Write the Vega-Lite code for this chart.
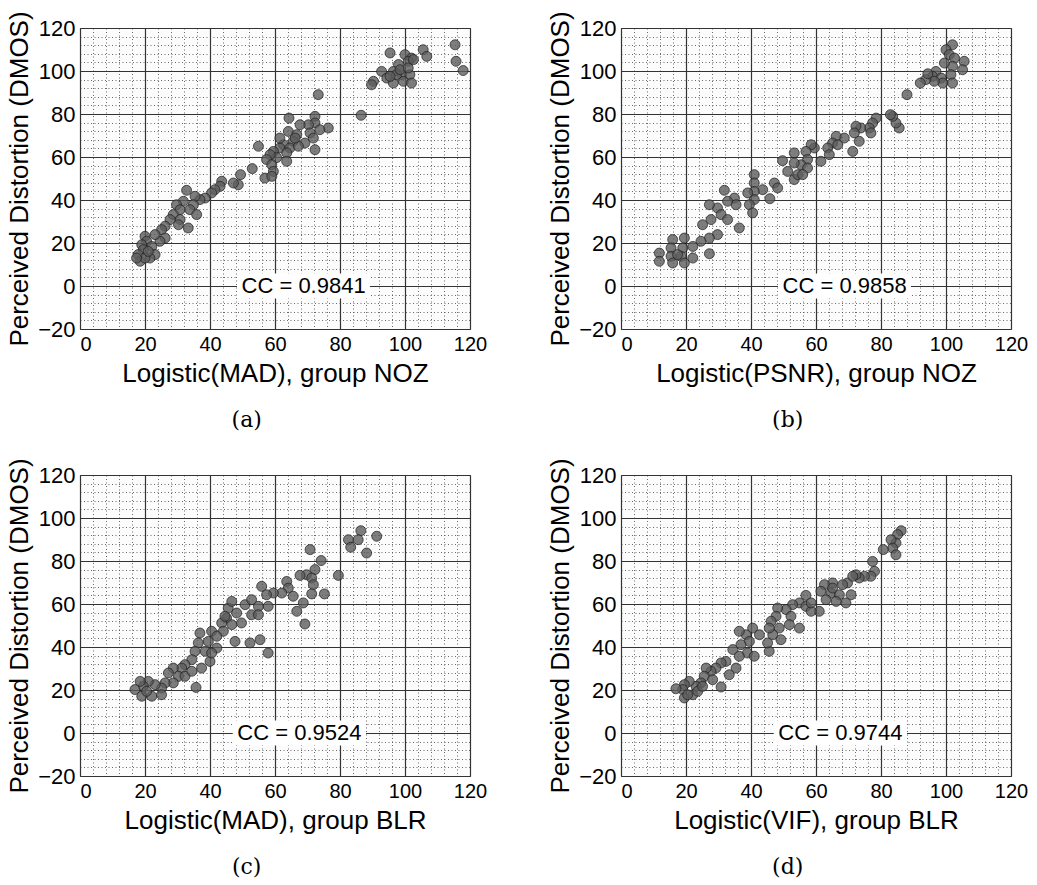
{
  "$schema": "https://vega.github.io/schema/vega-lite/v6.json",
  "background": "white",
  "padding": {"left": 6, "top": 10, "right": 5, "bottom": 5},
  "columns": 2,
  "spacing": {"row": 25, "column": 59},
  "config": {
    "font": "Liberation Sans",
    "view": {"stroke": "#444444", "strokeWidth": 1, "fill": "#fcfcfc"},
    "axis": {
      "ticks": false,
      "domain": false,
      "grid": true,
      "tickCount": 200,
      "format": "d",
      "gridColor": {"condition": {"test": "datum.value % 20 === 0", "value": "#333333"}, "value": "#444444"},
      "gridDash": {"condition": {"test": "datum.value % 20 === 0", "value": []}, "value": [1, 2.5]},
      "gridWidth": {"condition": {"test": "datum.value % 20 === 0", "value": 1.2}, "value": 1},
      "gridOpacity": {"condition": {"test": "datum.value % 20 === 0", "value": 1}, "value": 0.8},
      "labelExpr": "datum.value % 20 === 0 ? datum.label : ''",
      "labelOverlap": false,
      "labelBound": false,
      "labelFlush": false,
      "labelFont": "Liberation Sans",
      "labelFontSize": 20,
      "labelColor": "#000000",
      "labelPadding": 5,
      "titleFont": "Liberation Sans",
      "titleFontSize": 26,
      "titleFontWeight": "normal",
      "titleColor": "#000000"
    },
    "axisX": {"titlePadding": 6, "labelAlign": {"condition": {"test": "datum.value === 0", "value": "left"}, "value": "center"}},
    "axisY": {"titlePadding": 5, "labelFontSize": 22},
    "title": {"orient": "bottom", "frame": "bounds", "font": "DejaVu Serif", "fontSize": 22, "fontWeight": "normal", "color": "#000000", "anchor": "middle", "offset": 24}
  },
  "datasets": {
    "a": [
      {"x": 115.4, "y": 112.2}, {"x": 115.7, "y": 104.5}, {"x": 117.9, "y": 100.2}, {"x": 105.6, "y": 109.9}, {"x": 106.7, "y": 106.8},
      {"x": 95.4, "y": 108.4}, {"x": 100, "y": 107.6}, {"x": 102, "y": 106}, {"x": 101, "y": 104.5}, {"x": 98, "y": 103},
      {"x": 92.8, "y": 99.8}, {"x": 96.4, "y": 99.8}, {"x": 99, "y": 98.3}, {"x": 101.5, "y": 98.3}, {"x": 90.3, "y": 95.2},
      {"x": 89.7, "y": 93.6}, {"x": 94.4, "y": 96.7}, {"x": 96.4, "y": 94.4}, {"x": 99.5, "y": 95.2}, {"x": 102, "y": 94.4},
      {"x": 97.4, "y": 98.3}, {"x": 95.4, "y": 97.5}, {"x": 98.5, "y": 100.6}, {"x": 101, "y": 101.4}, {"x": 102.6, "y": 105.3},
      {"x": 73.3, "y": 89}, {"x": 86.5, "y": 79.4},
      {"x": 64.3, "y": 78.1}, {"x": 72.3, "y": 78.9}, {"x": 72.3, "y": 75.8}, {"x": 76.4, "y": 73.5}, {"x": 73.8, "y": 72.7},
      {"x": 70.3, "y": 75}, {"x": 67.7, "y": 75}, {"x": 70.8, "y": 71.2}, {"x": 64.1, "y": 71.9}, {"x": 66.7, "y": 70.4},
      {"x": 72.3, "y": 63.4}, {"x": 69.2, "y": 66.5}, {"x": 65.6, "y": 67.3}, {"x": 62.6, "y": 65.7}, {"x": 61.5, "y": 64.2},
      {"x": 64.6, "y": 64.2}, {"x": 67.2, "y": 65}, {"x": 59.5, "y": 62.6}, {"x": 63.6, "y": 61.9}, {"x": 60.5, "y": 59.7},
      {"x": 58.5, "y": 61.1}, {"x": 57.4, "y": 58.8}, {"x": 63.6, "y": 58}, {"x": 59, "y": 56.4}, {"x": 59.5, "y": 53.3},
      {"x": 56.9, "y": 50.2}, {"x": 59, "y": 51}, {"x": 54.9, "y": 65}, {"x": 66.2, "y": 68.8}, {"x": 71.8, "y": 68.8}, {"x": 61.5, "y": 68.8},
      {"x": 53, "y": 54.6}, {"x": 49.4, "y": 51.8}, {"x": 48.7, "y": 47.1}, {"x": 47.2, "y": 47.9}, {"x": 43.6, "y": 48.7},
      {"x": 43.1, "y": 46.4}, {"x": 41.5, "y": 44.8}, {"x": 40.5, "y": 43.3}, {"x": 38.5, "y": 40.9}, {"x": 36.9, "y": 40.2},
      {"x": 32.8, "y": 44.5}, {"x": 35.4, "y": 41.7}, {"x": 34.9, "y": 37.8}, {"x": 31.8, "y": 39.4}, {"x": 29.7, "y": 37.8},
      {"x": 30.8, "y": 35.5}, {"x": 33.8, "y": 35.5}, {"x": 28.7, "y": 33.2}, {"x": 30.8, "y": 30.9}, {"x": 30.3, "y": 28.5},
      {"x": 33.3, "y": 27}, {"x": 35.9, "y": 33.2}, {"x": 27.7, "y": 30.9}, {"x": 26.2, "y": 27.8}, {"x": 25.1, "y": 26.2},
      {"x": 26.2, "y": 22.3}, {"x": 24.6, "y": 20.8}, {"x": 23.1, "y": 23.9}, {"x": 20, "y": 23.1}, {"x": 20.5, "y": 20.8},
      {"x": 19, "y": 19.2}, {"x": 22.1, "y": 18.4}, {"x": 19.5, "y": 16.9}, {"x": 23.1, "y": 14.6}, {"x": 21.5, "y": 13},
      {"x": 17.9, "y": 14.6}, {"x": 18.5, "y": 11.5}, {"x": 20, "y": 13}, {"x": 21, "y": 16.1}, {"x": 17.4, "y": 13}
    ],
    "b": [
      {"x": 102, "y": 112.2}, {"x": 100, "y": 109.9}, {"x": 101, "y": 107.6}, {"x": 102.6, "y": 106}, {"x": 105.6, "y": 104.5},
      {"x": 105.1, "y": 100.6}, {"x": 102, "y": 102.2}, {"x": 99.5, "y": 103.7}, {"x": 96.9, "y": 99.8}, {"x": 95.9, "y": 97.5},
      {"x": 98.5, "y": 96.7}, {"x": 101.5, "y": 98.3}, {"x": 102, "y": 94.4}, {"x": 99, "y": 94.4}, {"x": 96.4, "y": 95.2},
      {"x": 93.8, "y": 96}, {"x": 92.1, "y": 94.4}, {"x": 94.4, "y": 98.7}, {"x": 88, "y": 89},
      {"x": 85.6, "y": 73.5}, {"x": 84.6, "y": 75.8}, {"x": 83.6, "y": 78.9}, {"x": 82.9, "y": 79.7}, {"x": 78.5, "y": 78.1},
      {"x": 77.4, "y": 75.8}, {"x": 76.4, "y": 73.5}, {"x": 76.9, "y": 71.2}, {"x": 73.8, "y": 73.5}, {"x": 72.3, "y": 74.3},
      {"x": 71.8, "y": 71.2}, {"x": 73.3, "y": 67.3}, {"x": 71.3, "y": 62.6}, {"x": 68.7, "y": 68.8}, {"x": 66.2, "y": 69.6},
      {"x": 65.1, "y": 66.5}, {"x": 63.6, "y": 64.2}, {"x": 66.7, "y": 65.7}, {"x": 64.1, "y": 61.1}, {"x": 61.5, "y": 58},
      {"x": 59.5, "y": 64.2}, {"x": 58.5, "y": 65.7}, {"x": 56.9, "y": 62.6}, {"x": 57.4, "y": 58.8}, {"x": 55.4, "y": 56.4},
      {"x": 57.4, "y": 54.9}, {"x": 53.3, "y": 61.9}, {"x": 49.7, "y": 58.3}, {"x": 51.3, "y": 53.3}, {"x": 53.3, "y": 49.5},
      {"x": 54.4, "y": 51.8}, {"x": 55.9, "y": 51.8}, {"x": 53.3, "y": 57.2}, {"x": 47.2, "y": 47.9}, {"x": 48.2, "y": 45.6},
      {"x": 45.8, "y": 40.6}, {"x": 43.6, "y": 44.8}, {"x": 41, "y": 51.8}, {"x": 41, "y": 47.9}, {"x": 41, "y": 44},
      {"x": 41, "y": 40.2}, {"x": 39.5, "y": 37.8}, {"x": 40.5, "y": 34}, {"x": 39, "y": 43.3}, {"x": 34.9, "y": 40.9},
      {"x": 35.4, "y": 37.8}, {"x": 31.8, "y": 44.5}, {"x": 32.8, "y": 39.4}, {"x": 29.7, "y": 36.3}, {"x": 27.2, "y": 37.8},
      {"x": 30.8, "y": 33.2}, {"x": 27.7, "y": 30.9}, {"x": 25.1, "y": 28.5}, {"x": 32.8, "y": 30.9}, {"x": 36.4, "y": 27},
      {"x": 29.7, "y": 23.9}, {"x": 27.2, "y": 22.3}, {"x": 24.6, "y": 20.8}, {"x": 27.2, "y": 15}, {"x": 22.1, "y": 18.4},
      {"x": 19.5, "y": 22.3}, {"x": 19, "y": 17.7}, {"x": 18.5, "y": 13.8}, {"x": 19.5, "y": 10.7}, {"x": 15.9, "y": 21.6},
      {"x": 15.4, "y": 17.7}, {"x": 15.4, "y": 13.8}, {"x": 15.9, "y": 10.7}, {"x": 11.8, "y": 15.3}, {"x": 11.8, "y": 11.5},
      {"x": 22.1, "y": 13}, {"x": 17.4, "y": 14.6}
    ],
    "c": [
      {"x": 86.4, "y": 94.1}, {"x": 91.3, "y": 91.5}, {"x": 82.6, "y": 89.9}, {"x": 85.6, "y": 89.9}, {"x": 83.3, "y": 86.4},
      {"x": 88.2, "y": 83.7}, {"x": 70.8, "y": 85.3}, {"x": 74.2, "y": 80.2}, {"x": 72.3, "y": 76}, {"x": 79.5, "y": 73.3},
      {"x": 69.7, "y": 73.6}, {"x": 67.7, "y": 73.3}, {"x": 71.3, "y": 72.1}, {"x": 71.8, "y": 69}, {"x": 71.3, "y": 64.7},
      {"x": 75.2, "y": 64.7}, {"x": 63.6, "y": 70.5}, {"x": 64.1, "y": 67.4}, {"x": 62.1, "y": 65.1}, {"x": 65.6, "y": 63.6},
      {"x": 68.7, "y": 60.5}, {"x": 66.7, "y": 56.6}, {"x": 69.2, "y": 50.7}, {"x": 55.9, "y": 68.2}, {"x": 59.5, "y": 65.1},
      {"x": 57.4, "y": 64.3}, {"x": 57.9, "y": 58.9}, {"x": 54.9, "y": 58.9}, {"x": 52.8, "y": 55}, {"x": 50.8, "y": 59.7},
      {"x": 48.2, "y": 55.8}, {"x": 45.6, "y": 58.1}, {"x": 45.1, "y": 53.5}, {"x": 46.7, "y": 50.4}, {"x": 43.6, "y": 51.2},
      {"x": 44.1, "y": 47.3}, {"x": 47.7, "y": 42.6}, {"x": 52.3, "y": 41.9}, {"x": 55.4, "y": 43.4}, {"x": 57.9, "y": 37.2},
      {"x": 40.5, "y": 47.3}, {"x": 36.9, "y": 46.5}, {"x": 39.5, "y": 42.6}, {"x": 36.4, "y": 41.9}, {"x": 42.1, "y": 39.5},
      {"x": 38.5, "y": 38}, {"x": 35.4, "y": 38}, {"x": 34.4, "y": 34.1}, {"x": 37.4, "y": 30.2}, {"x": 40, "y": 33.3},
      {"x": 32.3, "y": 31.8}, {"x": 31.3, "y": 30.2}, {"x": 28.7, "y": 30.2}, {"x": 27.2, "y": 27.9}, {"x": 30.3, "y": 26.4},
      {"x": 28.7, "y": 23.3}, {"x": 26.2, "y": 23.3}, {"x": 25.1, "y": 20.9}, {"x": 35.7, "y": 21.2}, {"x": 23.1, "y": 22.5},
      {"x": 21, "y": 24}, {"x": 19.5, "y": 21.7}, {"x": 16.9, "y": 20.2}, {"x": 19, "y": 17.1}, {"x": 22.1, "y": 17.1},
      {"x": 25.1, "y": 17.8}, {"x": 20.5, "y": 19.4}, {"x": 18.5, "y": 24}, {"x": 46.7, "y": 61.2}, {"x": 52.8, "y": 62},
      {"x": 54.9, "y": 55}, {"x": 49.7, "y": 51.2}, {"x": 42.1, "y": 45}, {"x": 32.3, "y": 26.4}, {"x": 34.4, "y": 28.7},
      {"x": 40.5, "y": 37.2}, {"x": 44.6, "y": 54.3}
    ],
    "d": [
      {"x": 86.2, "y": 94.1}, {"x": 85.1, "y": 92.3}, {"x": 84.6, "y": 88.4}, {"x": 83.1, "y": 89.9}, {"x": 83.6, "y": 86},
      {"x": 84.6, "y": 82.9}, {"x": 80.7, "y": 85.3}, {"x": 77.4, "y": 79.8}, {"x": 78, "y": 75.2}, {"x": 76.9, "y": 72.9},
      {"x": 74.9, "y": 72.9}, {"x": 73.3, "y": 72.1}, {"x": 72.3, "y": 73.6}, {"x": 69.7, "y": 69.8}, {"x": 68.2, "y": 69},
      {"x": 65.1, "y": 69.8}, {"x": 62.6, "y": 69}, {"x": 61.5, "y": 65.9}, {"x": 64.6, "y": 65.1}, {"x": 67.2, "y": 64.3},
      {"x": 70.8, "y": 64.3}, {"x": 69.2, "y": 60.5}, {"x": 66.2, "y": 61.2}, {"x": 63.1, "y": 62}, {"x": 56.9, "y": 64},
      {"x": 54.9, "y": 60.5}, {"x": 56.9, "y": 58.9}, {"x": 61, "y": 56.6}, {"x": 58.5, "y": 56.6}, {"x": 52.8, "y": 59.7},
      {"x": 50.8, "y": 57.4}, {"x": 52.3, "y": 54.3}, {"x": 54.9, "y": 48.8}, {"x": 51.8, "y": 50.4}, {"x": 48.2, "y": 58.1},
      {"x": 47.7, "y": 54.3}, {"x": 46.2, "y": 52}, {"x": 48.7, "y": 48.8}, {"x": 46.7, "y": 45.7}, {"x": 49.2, "y": 43.4},
      {"x": 45.6, "y": 38}, {"x": 45.1, "y": 41.9}, {"x": 40.5, "y": 48.8}, {"x": 42.6, "y": 45.7}, {"x": 38.5, "y": 45.7},
      {"x": 36.4, "y": 47.3}, {"x": 39.5, "y": 42.6}, {"x": 36.9, "y": 41.1}, {"x": 34.4, "y": 38.8}, {"x": 38.9, "y": 37.2},
      {"x": 41, "y": 35.7}, {"x": 36.4, "y": 35.7}, {"x": 32.3, "y": 33.3}, {"x": 30.8, "y": 32.6}, {"x": 29.2, "y": 30.2},
      {"x": 35.4, "y": 30.2}, {"x": 33.3, "y": 27.1}, {"x": 27.7, "y": 28.7}, {"x": 26.2, "y": 30.2}, {"x": 25.6, "y": 26.4},
      {"x": 28.2, "y": 24.8}, {"x": 30.8, "y": 21.4}, {"x": 24.6, "y": 23.3}, {"x": 23.1, "y": 21.7}, {"x": 21, "y": 24},
      {"x": 19.5, "y": 22.5}, {"x": 19, "y": 20.2}, {"x": 16.9, "y": 20.6}, {"x": 19.5, "y": 16.3}, {"x": 22.1, "y": 17.8},
      {"x": 23.6, "y": 19.4}, {"x": 20.5, "y": 17.8}, {"x": 25.1, "y": 21.7}, {"x": 58.5, "y": 60.5}, {"x": 65.1, "y": 67.4},
      {"x": 71.3, "y": 72.9}, {"x": 45.6, "y": 48.8}
    ]
  },
  "concat": [
    {
      "width": 390, "height": 301,
      "title": {"text": "(a)"},
      "layer": [
        {"data": {"name": "a"}, "mark": {"type": "circle", "size": 100, "fill": "#5c5c5c", "fillOpacity": 0.8, "stroke": "#1a1a1a", "strokeWidth": 0.8, "strokeOpacity": 0.85},
         "encoding": {
           "x": {"field": "x", "type": "quantitative", "scale": {"domain": [0, 120], "nice": false, "zero": false}, "axis": {"title": "Logistic(MAD), group NOZ", "values": [0,4,8,12,16,20,24,28,32,36,40,44,48,52,56,60,64,68,72,76,80,84,88,92,96,100,104,108,112,116,120]}},
           "y": {"field": "y", "type": "quantitative", "scale": {"domain": [-20, 120], "nice": false, "zero": false}, "axis": {"title": "Perceived Distortion (DMOS)", "values": [-20,-16,-12,-8,-4,0,4,8,12,16,20,24,28,32,36,40,44,48,52,56,60,64,68,72,76,80,84,88,92,96,100,104,108,112,116,120]}}
         }},
        {"data": {"values": [{"label": "CC = 0.9841"}]}, "mark": {"type": "rect", "fill": "white", "stroke": null},
         "encoding": {"x": {"datum": 48.3}, "x2": {"datum": 89.2}, "y": {"datum": -5.8}, "y2": {"datum": 5.8}}},
        {"data": {"values": [{"label": "CC = 0.9841"}]}, "mark": {"type": "text", "font": "Liberation Sans", "fontSize": 22, "color": "#000000", "align": "center", "baseline": "middle"},
         "encoding": {"x": {"datum": 68.8}, "y": {"datum": 0}, "text": {"field": "label"}}}
      ]
    },
    {
      "width": 390, "height": 301,
      "title": {"text": "(b)"},
      "layer": [
        {"data": {"name": "b"}, "mark": {"type": "circle", "size": 100, "fill": "#5c5c5c", "fillOpacity": 0.8, "stroke": "#1a1a1a", "strokeWidth": 0.8, "strokeOpacity": 0.85},
         "encoding": {
           "x": {"field": "x", "type": "quantitative", "scale": {"domain": [0, 120], "nice": false, "zero": false}, "axis": {"title": "Logistic(PSNR), group NOZ", "values": [0,4,8,12,16,20,24,28,32,36,40,44,48,52,56,60,64,68,72,76,80,84,88,92,96,100,104,108,112,116,120]}},
           "y": {"field": "y", "type": "quantitative", "scale": {"domain": [-20, 120], "nice": false, "zero": false}, "axis": {"title": "Perceived Distortion (DMOS)", "values": [-20,-16,-12,-8,-4,0,4,8,12,16,20,24,28,32,36,40,44,48,52,56,60,64,68,72,76,80,84,88,92,96,100,104,108,112,116,120]}}
         }},
        {"data": {"values": [{"label": "CC = 0.9858"}]}, "mark": {"type": "rect", "fill": "white", "stroke": null},
         "encoding": {"x": {"datum": 48.3}, "x2": {"datum": 89.2}, "y": {"datum": -5.8}, "y2": {"datum": 5.8}}},
        {"data": {"values": [{"label": "CC = 0.9858"}]}, "mark": {"type": "text", "font": "Liberation Sans", "fontSize": 22, "color": "#000000", "align": "center", "baseline": "middle"},
         "encoding": {"x": {"datum": 68.8}, "y": {"datum": 0}, "text": {"field": "label"}}}
      ]
    },
    {
      "width": 390, "height": 301,
      "title": {"text": "(c)"},
      "layer": [
        {"data": {"name": "c"}, "mark": {"type": "circle", "size": 100, "fill": "#5c5c5c", "fillOpacity": 0.8, "stroke": "#1a1a1a", "strokeWidth": 0.8, "strokeOpacity": 0.85},
         "encoding": {
           "x": {"field": "x", "type": "quantitative", "scale": {"domain": [0, 120], "nice": false, "zero": false}, "axis": {"title": "Logistic(MAD), group BLR", "values": [0,4,8,12,16,20,24,28,32,36,40,44,48,52,56,60,64,68,72,76,80,84,88,92,96,100,104,108,112,116,120]}},
           "y": {"field": "y", "type": "quantitative", "scale": {"domain": [-20, 120], "nice": false, "zero": false}, "axis": {"title": "Perceived Distortion (DMOS)", "values": [-20,-16,-12,-8,-4,0,4,8,12,16,20,24,28,32,36,40,44,48,52,56,60,64,68,72,76,80,84,88,92,96,100,104,108,112,116,120]}}
         }},
        {"data": {"values": [{"label": "CC = 0.9524"}]}, "mark": {"type": "rect", "fill": "white", "stroke": null},
         "encoding": {"x": {"datum": 47}, "x2": {"datum": 88}, "y": {"datum": -5.8}, "y2": {"datum": 5.8}}},
        {"data": {"values": [{"label": "CC = 0.9524"}]}, "mark": {"type": "text", "font": "Liberation Sans", "fontSize": 22, "color": "#000000", "align": "center", "baseline": "middle"},
         "encoding": {"x": {"datum": 67.5}, "y": {"datum": 0}, "text": {"field": "label"}}}
      ]
    },
    {
      "width": 390, "height": 301,
      "title": {"text": "(d)"},
      "layer": [
        {"data": {"name": "d"}, "mark": {"type": "circle", "size": 100, "fill": "#5c5c5c", "fillOpacity": 0.8, "stroke": "#1a1a1a", "strokeWidth": 0.8, "strokeOpacity": 0.85},
         "encoding": {
           "x": {"field": "x", "type": "quantitative", "scale": {"domain": [0, 120], "nice": false, "zero": false}, "axis": {"title": "Logistic(VIF), group BLR", "values": [0,4,8,12,16,20,24,28,32,36,40,44,48,52,56,60,64,68,72,76,80,84,88,92,96,100,104,108,112,116,120]}},
           "y": {"field": "y", "type": "quantitative", "scale": {"domain": [-20, 120], "nice": false, "zero": false}, "axis": {"title": "Perceived Distortion (DMOS)", "values": [-20,-16,-12,-8,-4,0,4,8,12,16,20,24,28,32,36,40,44,48,52,56,60,64,68,72,76,80,84,88,92,96,100,104,108,112,116,120]}}
         }},
        {"data": {"values": [{"label": "CC = 0.9744"}]}, "mark": {"type": "rect", "fill": "white", "stroke": null},
         "encoding": {"x": {"datum": 47}, "x2": {"datum": 88}, "y": {"datum": -5.8}, "y2": {"datum": 5.8}}},
        {"data": {"values": [{"label": "CC = 0.9744"}]}, "mark": {"type": "text", "font": "Liberation Sans", "fontSize": 22, "color": "#000000", "align": "center", "baseline": "middle"},
         "encoding": {"x": {"datum": 67.5}, "y": {"datum": 0}, "text": {"field": "label"}}}
      ]
    }
  ]
}
